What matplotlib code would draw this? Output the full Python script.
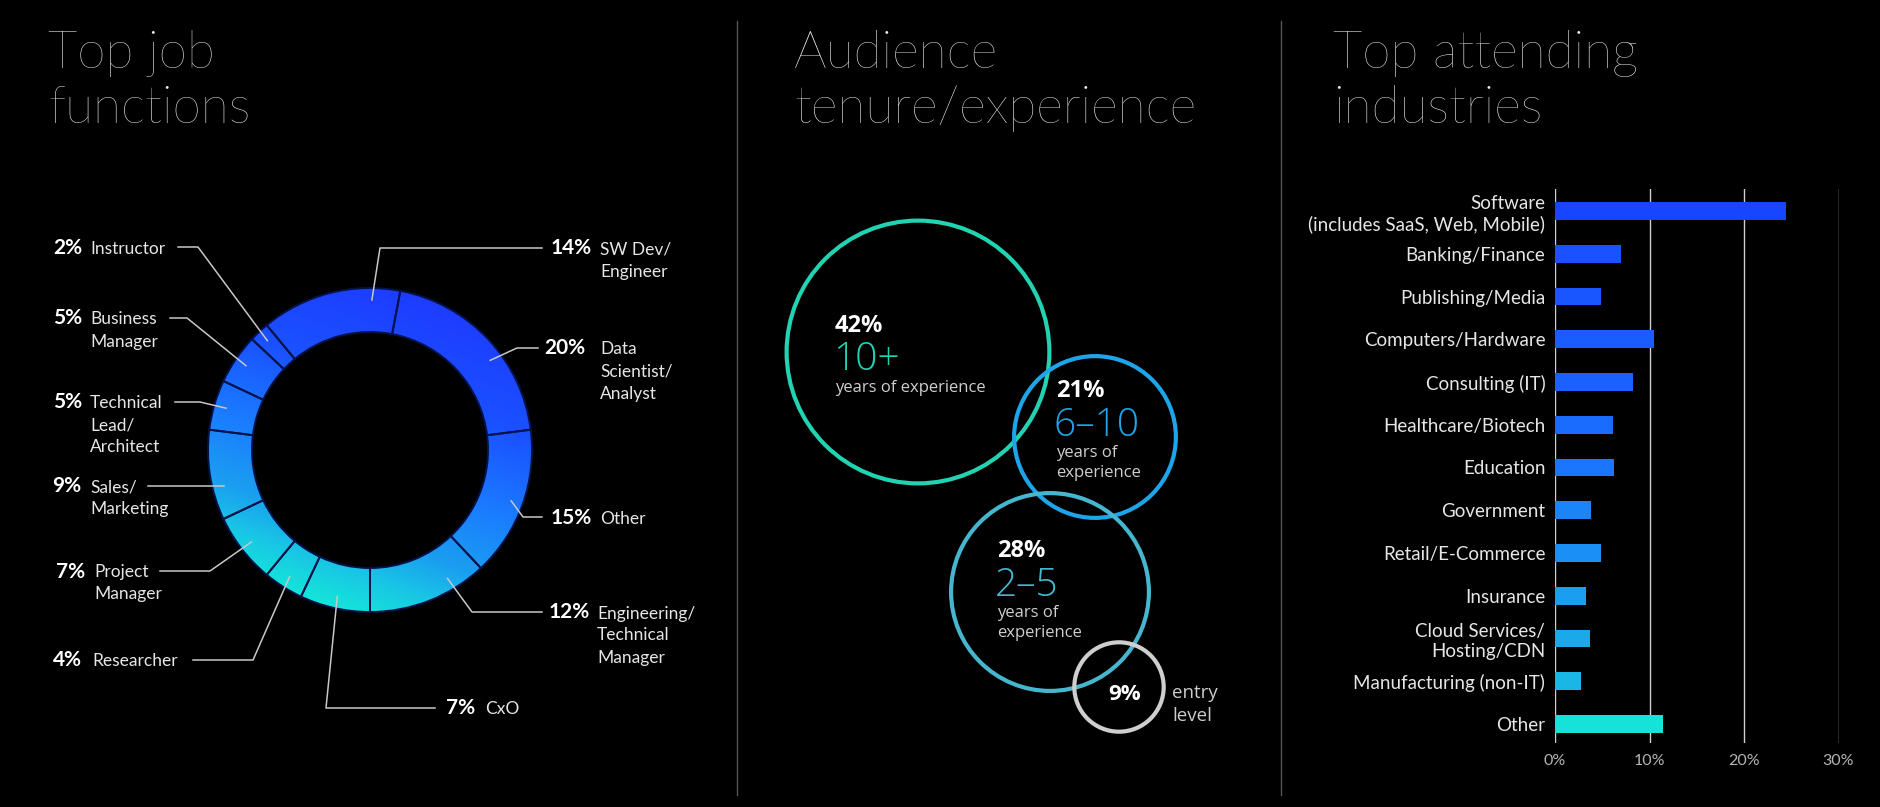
import numpy as np
import matplotlib
matplotlib.use('Agg')
import matplotlib.pyplot as plt
from matplotlib.patches import Circle
from matplotlib.colors import LinearSegmentedColormap

# ---- data ----
job_labels = ['CxO', 'Researcher', 'Project\nManager', 'Sales/\nMarketing',
              'Technical\nLead/\nArchitect', 'Business\nManager', 'Instructor',
              'SW Dev/\nEngineer', 'Data\nScientist/\nAnalyst', 'Other',
              'Engineering/\nTechnical\nManager']
job_pct = [7, 4, 7, 9, 5, 5, 2, 14, 20, 15, 12]

tenure_pct = [42, 21, 28, 9]
tenure_big = ['10+', '6–10', '2–5', '']
tenure_sub = ['years of experience', 'years of\nexperience', 'years of\nexperience', 'entry\nlevel']

industries = ['Software\n(includes SaaS, Web, Mobile)', 'Banking/Finance', 'Publishing/Media',
              'Computers/Hardware', 'Consulting (IT)', 'Healthcare/Biotech', 'Education',
              'Government', 'Retail/E-Commerce', 'Insurance', 'Cloud Services/\nHosting/CDN',
              'Manufacturing (non-IT)', 'Other']
industry_pct = [24.4, 7.0, 4.9, 10.5, 8.3, 6.1, 6.2, 3.8, 4.9, 3.3, 3.7, 2.8, 11.4]
industry_ticks = [0, 10, 20, 30]

# ---- style / layout ----
plt.rcParams['font.family'] = ['Lato', 'DejaVu Sans']
W, H = 1880, 807
TXT = '#e6e6e6'
LINE = '#c8c8c8'

fig = plt.figure(figsize=(W / 100, H / 100), dpi=100, facecolor='black')
ov = fig.add_axes([0, 0, 1, 1])

# titles and dividers
for x, lines in [(48, ['Top job', 'functions']), (794, ['Audience', 'tenure/experience']),
                 (1333, ['Top attending', 'industries'])]:
    for i, s in enumerate(lines):
        ov.text(x, 68 + i * 55, s, fontsize=37, fontweight='light', color='#f0f0f0', va='baseline')
for x in [737, 1281]:
    ov.plot([x, x], [21, 795], color='#555555', lw=1)

# ---- donut: job functions ----
cx, cy, R, ring = 370, 450, 162, 44
wedges, _ = ov.pie(job_pct, radius=R, center=(cx, cy), startangle=90, counterclock=True,
                   wedgeprops=dict(width=ring, facecolor='none', edgecolor='#06124a', linewidth=1.4))

cmap = LinearSegmentedColormap.from_list('ring', [(0, '#1e3cff'), (0.3, '#1a52ff'), (0.55, '#1a7cff'),
                                                  (0.75, '#1a9ef0'), (0.88, '#18c8e4'), (1, '#14e6d8')])
gx = np.linspace(cx - R, cx + R, 300)
gy = np.linspace(cy - R, cy + R, 300)
GX, GY = np.meshgrid(gx, gy)
a = np.radians(20)
grad = ((-(GX - cx) * np.sin(a) + (GY - cy) * np.cos(a)) / R + 1) / 2
for w in wedges:
    im = ov.imshow(grad, cmap=cmap, vmin=0, vmax=1, extent=(cx - R, cx + R, cy + R, cy - R),
                   origin='upper', interpolation='bilinear', zorder=0.5)
    im.set_clip_path(w)

# (fraction along wedge, elbow, line end x, pct x, label x)
job_layout = [
    (0.5, (326, 708), 435, 446, 485),
    (0.5, (253, 660), 193, 53, 92),
    (0.5, (210, 571), 160, 56, 94),
    (0.35, None, 148, 52, 90),
    (0.5, (200, 402), 175, 53, 90),
    (0.5, (187, 318), 170, 53, 90),
    (0.5, (198, 247), 178, 53, 90),
    (0.8, (380, 248), 542, 551, 600),
    (0.59, (517, 348), 538, 544, 600),
    (0.5, (523, 517), 542, 551, 600),
    (0.28, (472, 612), 542, 549, 597),
]
r_anchor = 150
for pct, name, w, (f, elbow, end_x, px, tx) in zip(job_pct, job_labels, wedges, job_layout):
    ang = np.radians(w.theta1 + f * (w.theta2 - w.theta1))
    ax0, ay0 = cx + r_anchor * np.cos(ang), cy + r_anchor * np.sin(ang)
    if elbow is None:
        elbow = (ax0, ay0)
    ey = elbow[1]
    ov.plot([ax0, elbow[0], end_x], [ay0, ey, ey], color=LINE, lw=1.1)
    base = ey + 6.5
    ov.text(px, base, f'{pct}%', fontsize=15, fontweight='bold', color='white', va='baseline')
    for i, s in enumerate(name.split('\n')):
        ov.text(tx, base + i * 22, s, fontsize=12.5, color=TXT, va='baseline')

# ---- bubbles: tenure ----
tenure_colors = ['#22d3b2', '#1ea4e8', '#46b6cf', '#cfcfcf']
tenure_centers = [(918, 352), (1095, 437), (1050, 592), (1119, 687)]
tenure_text_at = [(835, 332), (1056, 397), (997, 557), None]
for pct, big, sub, col, (x, y), t in zip(tenure_pct, tenure_big, tenure_sub, tenure_colors,
                                          tenure_centers, tenure_text_at):
    r = 9.6 * pct ** 0.7
    ov.add_patch(Circle((x, y), r, fill=False, ec=col, lw=3))
    if t is None:
        ov.text(x + 6, y + 13, f'{pct}%', fontsize=16, fontweight='bold', color='white',
                ha='center', va='baseline', family='Open Sans')
        for i, s in enumerate(sub.split('\n')):
            ov.text(1172, 698 + i * 23, s, fontsize=13.5, color='#cccccc', va='baseline',
                    family='Open Sans')
        continue
    tx, ty = t
    ov.text(tx, ty, f'{pct}%', fontsize=17, fontweight='bold', color='white', va='baseline',
            family='Open Sans')
    ov.text(tx - 2, ty + 38.5, big, fontsize=28, color=col, va='baseline', family='Open Sans',
            fontweight='light')
    for i, s in enumerate(sub.split('\n')):
        ov.text(tx, ty + 60 + i * 20, s, fontsize=12, color='#cfcfcf', va='baseline',
                family='Open Sans')

ov.set_xlim(0, W)
ov.set_ylim(H, 0)
ov.set_aspect('auto')
ov.axis('off')

# ---- bars: industries ----
bar_colors = ['#1646ff', '#1a52ff', '#1a56ff', '#1a5cff', '#1a62ff', '#1a6cff', '#1a76ff',
              '#1a84f9', '#1a8ff5', '#1a9ef0', '#1aa9eb', '#1ab6e6', '#16e2da']
bx = fig.add_axes([1555 / W, (H - 743) / H, 283.5 / W, (743 - 189) / H])
bx.set_facecolor('none')
yy = np.arange(len(industries))
bx.barh(yy, industry_pct, height=0.42, color=bar_colors, zorder=2)
bx.set_xlim(0, 30)
bx.set_ylim(len(industries) - 0.555, -0.515)
bx.set_xticks(industry_ticks)
bx.set_xticklabels([f'{t}%' for t in industry_ticks])
bx.set_yticks(yy)
bx.set_yticklabels(industries)
bx.grid(axis='x', color='#d0d0d0', lw=1.0)
bx.set_axisbelow(True)
for s in bx.spines.values():
    s.set_visible(False)
bx.tick_params(axis='x', length=0, pad=8, labelsize=11.5, labelcolor='#b5b5b5')
bx.tick_params(axis='y', length=0, pad=7, labelsize=13.5, labelcolor=TXT)

fig.savefig('out.png', dpi=100, facecolor='black')
